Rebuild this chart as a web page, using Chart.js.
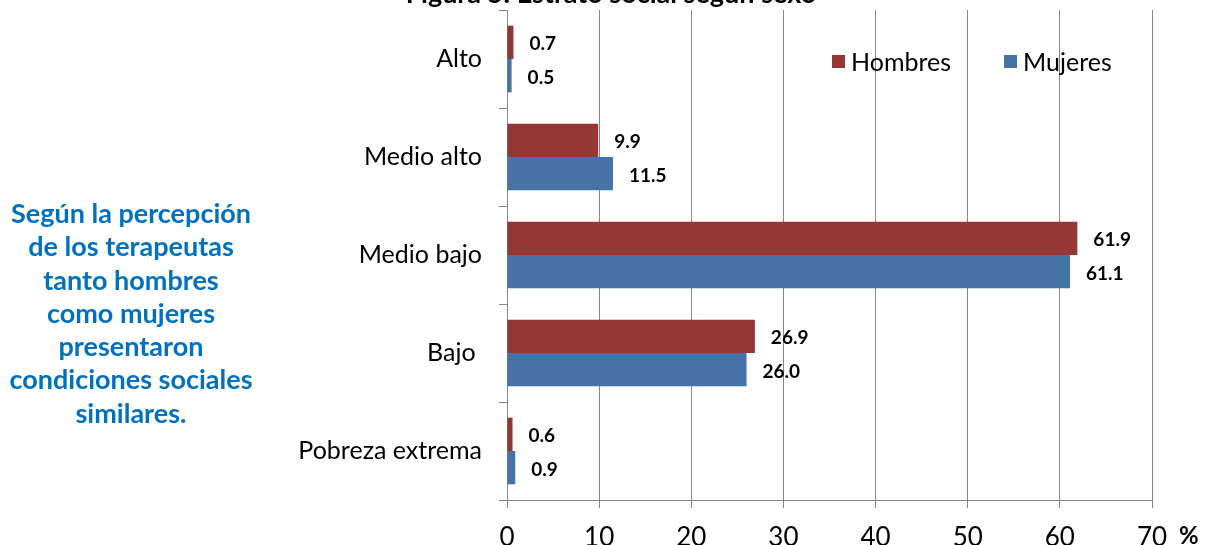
<!DOCTYPE html>
<html>
<head>
<meta charset="utf-8">
<script src="https://cdn.jsdelivr.net/npm/chart.js@4"></script>
<style>
  html, body { margin:0; padding:0; background:#fff; }
  #wrap { position:relative; width:1206px; height:545px; overflow:hidden; }
  canvas { position:absolute; left:0; top:0; }
  .title { position:absolute; left:0; width:1222px; top:-21px; text-align:center; font:bold 27px Lato, sans-serif; line-height:27px; color:#000; white-space:nowrap; }
  .note { position:absolute; left:0; width:262px; top:196px; text-align:center; font:bold 27px Lato, sans-serif; line-height:33.3px; color:#0070C0; white-space:nowrap; }
  .pct { position:absolute; left:1179px; top:521px; font:bold 24px Lato, sans-serif; line-height:28px; color:#000; }
  .leg { position:absolute; top:47px; font:25px Lato, sans-serif; line-height:28px; color:#000; white-space:nowrap; }
  .sw { position:absolute; width:13px; height:13px; top:55px; }
</style>
</head>
<body>
<div id="wrap">
  <canvas id="c" width="1206" height="545"></canvas>
  <div class="title">Figura 5: Estrato social según sexo</div>
  <div class="note">Según la percepción<br>de los terapeutas<br>tanto hombres<br>como mujeres<br>presentaron<br>condiciones sociales<br>similares.</div>
  <div class="sw" style="left:832px;background:#953735"></div>
  <div class="leg" style="left:851px">Hombres</div>
  <div class="sw" style="left:1004px;background:#4572A7"></div>
  <div class="leg" style="left:1023px">Mujeres</div>
  <div class="pct">%</div>
</div>
<script>
const categories = ['Alto', 'Medio alto', 'Medio bajo', 'Bajo ', 'Pobreza extrema'];
const seriesNames = ['Hombres', 'Mujeres'];
const hombres = [0.7, 9.9, 61.9, 26.9, 0.6];
const mujeres = [0.5, 11.5, 61.1, 26.0, 0.9];
const xMin = 0, xMax = 70, xStep = 10;

const GRID = '#868686';

const valueLabels = {
  id: 'valueLabels',
  afterDatasetsDraw(chart) {
    const ctx = chart.ctx;
    ctx.save();
    ctx.font = 'bold 19px Lato, sans-serif';
    ctx.fillStyle = '#000';
    ctx.textAlign = 'left';
    ctx.textBaseline = 'middle';
    chart.data.datasets.forEach((ds, i) => {
      chart.getDatasetMeta(i).data.forEach((bar, j) => {
        ctx.fillText(ds.data[j].toFixed(1), bar.x + 16, bar.y + 2);
      });
    });
    ctx.restore();
  }
};

new Chart(document.getElementById('c'), {
  type: 'bar',
  data: {
    labels: categories,
    datasets: [
      { label: seriesNames[0], data: hombres, backgroundColor: '#953735', categoryPercentage: 0.68, barPercentage: 1.0 },
      { label: seriesNames[1], data: mujeres, backgroundColor: '#4572A7', categoryPercentage: 0.68, barPercentage: 1.0 }
    ]
  },
  options: {
    indexAxis: 'y',
    responsive: false,
    animation: false,
    devicePixelRatio: 1,
    layout: { padding: { top: 10, right: 54, left: 0, bottom: 0 } },
    plugins: { legend: { display: false }, tooltip: { enabled: false } },
    scales: {
      x: {
        type: 'linear', min: xMin, max: xMax,
        ticks: { stepSize: xStep, color: '#000', font: { family: 'Lato', size: 26 }, padding: 14 },
        grid: { color: GRID, lineWidth: 1, tickLength: 8, drawTicks: true },
        border: { color: GRID, width: 1 },
        afterFit(s) { s.height = 45; }
      },
      y: {
        type: 'category',
        ticks: { color: '#000', font: { family: 'Lato', size: 25 }, padding: 17 },
        grid: { offset: true, drawOnChartArea: false, tickLength: 8, color: GRID, lineWidth: 1 },
        border: { color: GRID, width: 1 },
        afterFit(s) { s.width = 507; s.paddingTop = 0; s.paddingBottom = 0; }
      }
    }
  },
  plugins: [valueLabels]
});
</script>
</body>
</html>
